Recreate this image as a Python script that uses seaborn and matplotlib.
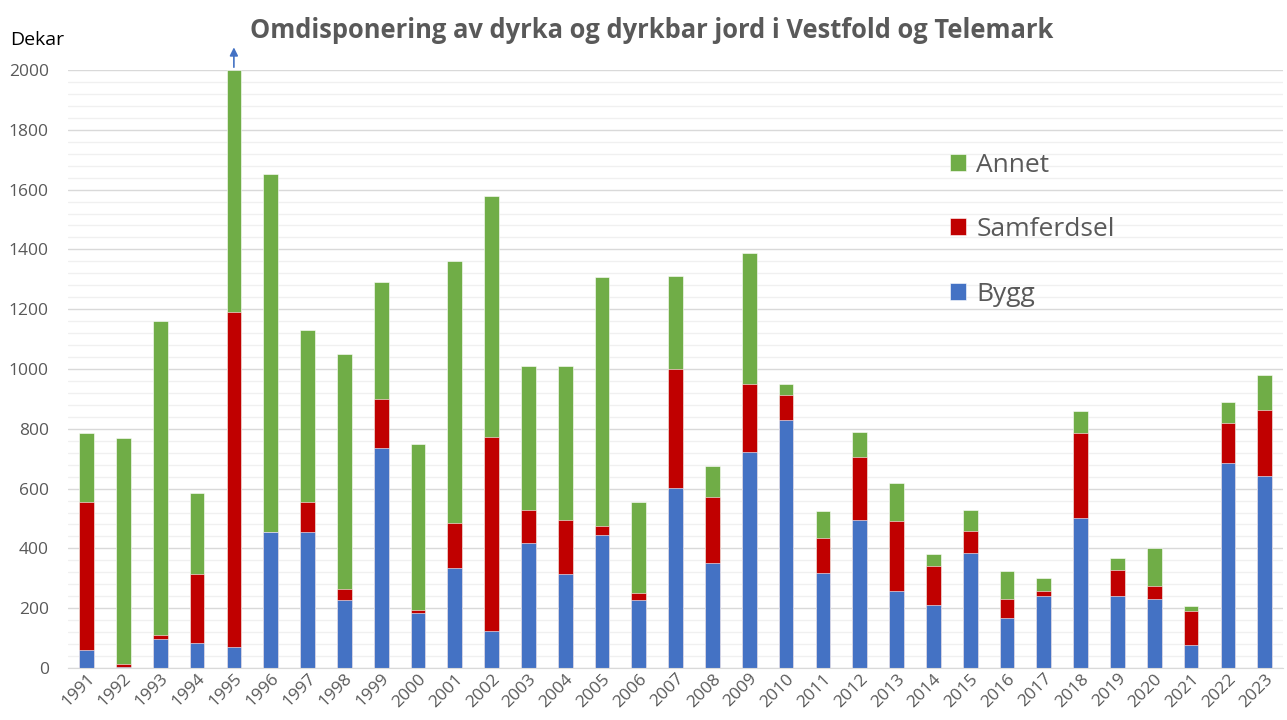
import pandas as pd
import matplotlib.pyplot as plt
import seaborn as sns
from matplotlib.ticker import MultipleLocator

# verdier lest av figuren (dekar)
years = [str(y) for y in range(1991, 2024)]
bygg = [59, 5, 98, 82, 70, 454, 454, 226, 735, 183,
        335, 124, 418, 313, 446, 229, 601, 351, 724, 829,
        318, 495, 257, 212, 385, 168, 241, 502, 241, 230,
        78, 686, 641]
samferdsel = [495, 10, 11, 232, 1122, 0, 100, 39, 166, 10,
              150, 650, 112, 183, 28, 22, 400, 222, 227, 84,
              117, 212, 234, 129, 72, 62, 17, 285, 88, 43,
              112, 134, 223]
annet = [232, 755, 1053, 272, 808, 1197, 575, 786, 389, 557,
         877, 805, 481, 515, 833, 305, 311, 101, 438, 38,
         89, 83, 127, 39, 72, 94, 43, 71, 40, 128,
         16, 71, 116]

df = pd.DataFrame({'aar': years, 'Bygg': bygg, 'Samferdsel': samferdsel, 'Annet': annet})
df['lag2'] = df['Bygg'] + df['Samferdsel']
df['lag3'] = df['lag2'] + df['Annet']

blaa = '#4472C4'
roed = '#C00000'
groenn = '#70AD47'
graa = '#595959'

sns.set_style('white')
plt.rcParams['font.family'] = ['Open Sans', 'DejaVu Sans']

fig = plt.figure(figsize=(12.87, 7.2), dpi=100)
ax = fig.add_axes([0.053, 0.0722, 0.944, 0.8306])

# stablede søyler: totalen først, så de nedre lagene oppå
sns.barplot(data=df, x='aar', y='lag3', color=groenn, width=0.4, ax=ax,
            saturation=1, edgecolor='white', linewidth=0.4, label='Annet')
sns.barplot(data=df, x='aar', y='lag2', color=roed, width=0.4, ax=ax,
            saturation=1, edgecolor='white', linewidth=0.4, label='Samferdsel')
sns.barplot(data=df, x='aar', y='Bygg', color=blaa, width=0.4, ax=ax,
            saturation=1, edgecolor='white', linewidth=0.4, label='Bygg')

ax.set_ylim(0, 2000)
ax.set_xlim(-0.5, len(years) - 0.5)
ax.yaxis.set_major_locator(MultipleLocator(200))
ax.yaxis.set_minor_locator(MultipleLocator(40))
ax.grid(axis='y', which='major', color='#D9D9D9', linewidth=1.0)
ax.grid(axis='y', which='minor', color='#F0F0F0', linewidth=1.0)
ax.set_axisbelow(True)
for s in ['left', 'right', 'top']:
    ax.spines[s].set_visible(False)
ax.spines['bottom'].set_color('#D9D9D9')
ax.tick_params(axis='both', which='both', length=0, colors=graa, labelsize=12.5)
ax.tick_params(axis='y', pad=14)
ax.tick_params(axis='x', pad=2)
ax.set_xlabel('')
ax.set_ylabel('')
plt.setp(ax.get_xticklabels(), rotation=45, ha='right', rotation_mode='anchor')

# 1995 går over skalaen
ax.annotate('', xy=(4, 2085), xytext=(4, 2000), annotation_clip=False,
            arrowprops=dict(arrowstyle='-|>', color=blaa, lw=1.2, mutation_scale=12))

fig.text(0.506, 0.958, 'Omdisponering av dyrka og dyrkbar jord i Vestfold og Telemark',
         ha='center', va='center', fontsize=18.4, fontweight='bold', color=graa)
fig.text(0.008, 0.945, 'Dekar', ha='left', va='center', fontsize=14, color='black')

h, l = ax.get_legend_handles_labels()
leg = fig.legend(h, l, loc='center left', bbox_to_anchor=(0.738, 0.681),
                 frameon=False, fontsize=19, labelspacing=1.5,
                 handlelength=0.6, handleheight=0.6, handletextpad=0.4,
                 borderpad=0, borderaxespad=0)
for t in leg.get_texts():
    t.set_color(graa)
if ax.legend_:
    ax.legend_.remove()

plt.savefig('out.png', dpi=100)
